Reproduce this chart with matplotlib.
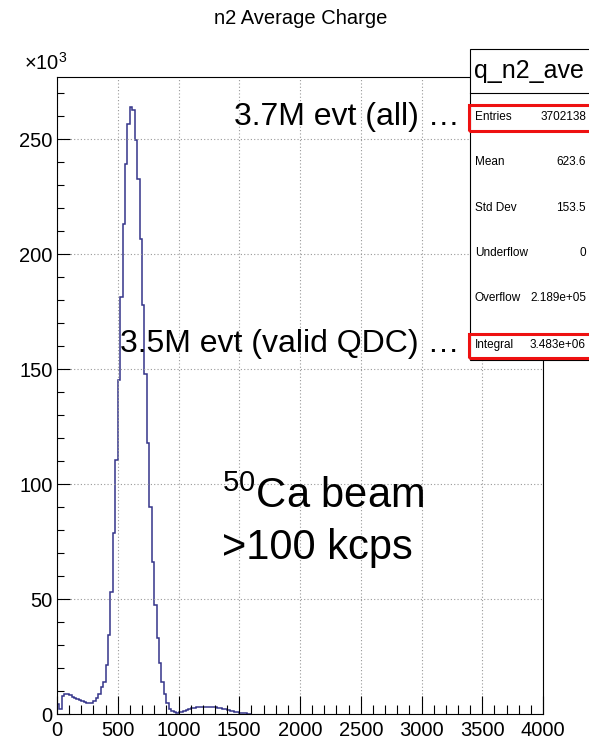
import numpy as np
import matplotlib
matplotlib.use("Agg")
import matplotlib.pyplot as plt
from matplotlib.patches import Rectangle
from matplotlib.ticker import MultipleLocator

plt.rcParams['font.family'] = ['Liberation Sans', 'DejaVu Sans']
plt.rcParams['mathtext.fontset'] = 'custom'
plt.rcParams['mathtext.rm'] = 'Liberation Sans'
plt.rcParams['mathtext.it'] = 'Liberation Sans'

# histogram: 20-unit bins starting at 0, counts in units of 10^3
bin_width = 20
counts = [4.3, 2.0, 8.0, 8.8, 8.7, 8.2, 7.6, 7.0, 6.4, 5.9,
          5.5, 5.2, 5.0, 4.9, 5.0, 5.6, 7.0, 8.7, 11.7, 14.0,
          21.3, 34.3, 53.2, 78.7, 110.4, 145.2, 181.3, 213.0, 239.1, 256.4,
          264.0, 262.6, 249.6, 232.6, 206.5, 177.8, 147.8, 117.8, 90.1, 66.2,
          47.4, 32.9, 22.0, 14.0, 8.7, 4.9, 2.0, 1.2, 0.8, 0.6,
          0.7, 0.9, 1.3, 1.7, 2.1, 2.5, 2.7, 2.9, 3.0, 3.1,
          3.2, 3.2, 3.2, 3.1, 3.0, 2.9, 2.7, 2.5, 2.3, 2.0,
          1.8, 1.4, 1.1, 1.0, 0.8, 0.5, 0.4, 0.3, 0.2, 0.1]

title = "n2 Average Charge"
stats_name = "q_n2_ave"
stats_labels = ["Entries", "Mean", "Std Dev", "Underflow", "Overflow", "Integral"]
stats_values = ["3702138", "623.6", "153.5", "0", "2.189e+05", "3.483e+06"]

W, H = 589, 741
def fx(x):
    return x / W
def fy(y):
    return 1 - y / H

fig = plt.figure(figsize=(W / 100, H / 100), dpi=100)
ax = fig.add_axes([fx(57), fy(714), fx(543) - fx(57), fy(77) - fy(714)])

edges = np.arange(len(counts) + 1) * bin_width
ax.stairs(counts, edges, color='#34348a', linewidth=1.1, baseline=0)

ax.set_xlim(0, 4000)
ax.set_ylim(0, 277)
ax.xaxis.set_major_locator(MultipleLocator(500))
ax.xaxis.set_minor_locator(MultipleLocator(100))
ax.yaxis.set_major_locator(MultipleLocator(50))
ax.yaxis.set_minor_locator(MultipleLocator(10))
ax.tick_params(axis='both', which='both', direction='in', labelsize=14.5, width=0.8)
ax.tick_params(axis='x', which='major', length=13, pad=5)
ax.tick_params(axis='x', which='minor', length=6.5)
ax.tick_params(axis='y', which='major', length=9.5, pad=3)
ax.tick_params(axis='y', which='minor', length=5)
ax.grid(True, which='major', color='#999999', linestyle=(0, (1, 2)), linewidth=0.8)
for s in ax.spines.values():
    s.set_linewidth(0.8)

fig.text(fx(46), fy(63), r'$\times10^{3}$', fontsize=14.5, ha='center', va='center')
fig.text(fx(301), fy(19), title, fontsize=14.5, ha='center', va='center')

# stats box
fig.add_artist(Rectangle((fx(470), fy(360)), fx(W + 10) - fx(470), fy(49) - fy(360),
                         transform=fig.transFigure, facecolor='white', edgecolor='black',
                         linewidth=0.8, zorder=5))
fig.add_artist(plt.Line2D([fx(470), 1], [fy(93), fy(93)], transform=fig.transFigure,
                          color='black', linewidth=0.8, zorder=6))
fig.text(fx(529), fy(71), stats_name, fontsize=18, ha='center', va='center', zorder=7)
row_y = [117, 162, 208, 253, 298, 345]
for lab, val, y in zip(stats_labels, stats_values, row_y):
    fig.text(fx(475), fy(y), lab, fontsize=8.5, ha='left', va='center', zorder=7)
    fig.text(fx(586), fy(y), val, fontsize=8.5, ha='right', va='center', zorder=7)

for y0, y1 in [(105, 131), (334, 358)]:
    fig.add_artist(Rectangle((fx(469), fy(y1)), fx(W + 10) - fx(469), fy(y0) - fy(y1),
                             transform=fig.transFigure, facecolor='none', edgecolor='#ee1111',
                             linewidth=2.2, zorder=8))

# annotations
fig.text(fx(460), fy(117), "3.7M evt (all) \u2026", fontsize=23, ha='right', va='center')
fig.text(fx(460), fy(344), "3.5M evt (valid QDC) \u2026", fontsize=23, ha='right', va='center')
fig.text(fx(222), fy(497), r'$^{50}$Ca beam', fontsize=30, ha='left', va='center')
fig.text(fx(222), fy(548), ">100 kcps", fontsize=30, ha='left', va='center')

fig.savefig("out.png", dpi=100)
